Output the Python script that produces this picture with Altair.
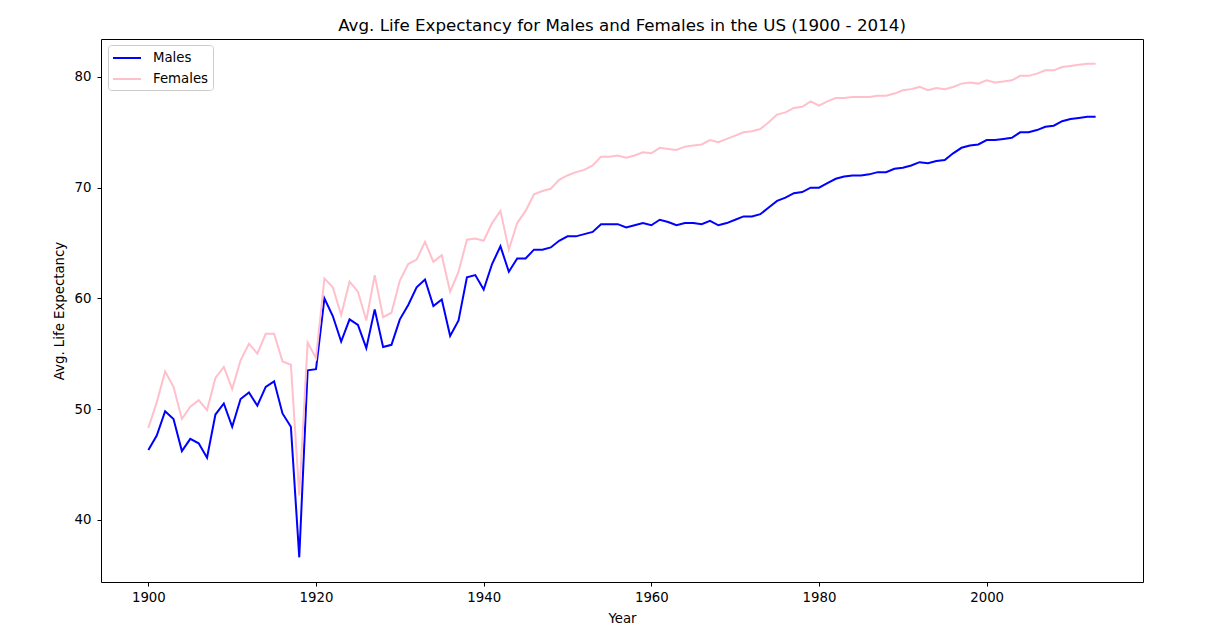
import altair as alt
import pandas as pd

years = list(range(1900, 2014))

males = [
    46.3, 47.6, 49.8, 49.1, 46.2, 47.3, 46.9, 45.6, 49.5, 50.5,
    48.4, 50.9, 51.5, 50.3, 52.0, 52.5, 49.6, 48.4, 36.6, 53.5,
    53.6, 60.0, 58.4, 56.1, 58.1, 57.6, 55.5, 59.0, 55.6, 55.8,
    58.1, 59.4, 61.0, 61.7, 59.3, 59.9, 56.6, 58.0, 61.9, 62.1,
    60.8, 63.1, 64.7, 62.4, 63.6, 63.6, 64.4, 64.4, 64.6, 65.2,
    65.6, 65.6, 65.8, 66.0, 66.7, 66.7, 66.7, 66.4, 66.6, 66.8,
    66.6, 67.1, 66.9, 66.6, 66.8, 66.8, 66.7, 67.0, 66.6, 66.8,
    67.1, 67.4, 67.4, 67.6, 68.2, 68.8, 69.1, 69.5, 69.6, 70.0,
    70.0, 70.4, 70.8, 71.0, 71.1, 71.1, 71.2, 71.4, 71.4, 71.7,
    71.8, 72.0, 72.3, 72.2, 72.4, 72.5, 73.1, 73.6, 73.8, 73.9,
    74.3, 74.3, 74.4, 74.5, 75.0, 75.0, 75.2, 75.5, 75.6, 76.0,
    76.2, 76.3, 76.4, 76.4,
]

females = [
    48.3, 50.6, 53.4, 52.0, 49.1, 50.2, 50.8, 49.9, 52.8, 53.8,
    51.8, 54.4, 55.9, 55.0, 56.8, 56.8, 54.3, 54.0, 42.2, 56.0,
    54.6, 61.8, 61.0, 58.5, 61.5, 60.6, 58.0, 62.1, 58.3, 58.7,
    61.6, 63.1, 63.5, 65.1, 63.3, 63.9, 60.6, 62.4, 65.3, 65.4,
    65.2, 66.8, 67.9, 64.4, 66.8, 67.9, 69.4, 69.7, 69.9, 70.7,
    71.1, 71.4, 71.6, 72.0, 72.8, 72.8, 72.9, 72.7, 72.9, 73.2,
    73.1, 73.6, 73.5, 73.4, 73.7, 73.8, 73.9, 74.3, 74.1, 74.4,
    74.7, 75.0, 75.1, 75.3, 75.9, 76.6, 76.8, 77.2, 77.3, 77.8,
    77.4, 77.8, 78.1, 78.1, 78.2, 78.2, 78.2, 78.3, 78.3, 78.5,
    78.8, 78.9, 79.1, 78.8, 79.0, 78.9, 79.1, 79.4, 79.5, 79.4,
    79.7, 79.5, 79.6, 79.7, 80.1, 80.1, 80.3, 80.6, 80.6, 80.9,
    81.0, 81.1, 81.2, 81.2,
]

series_names = ["Males", "Females"]
series_colors = ["blue", "pink"]
x_ticks = [1900, 1920, 1940, 1960, 1980, 2000]
y_ticks = [40, 50, 60, 70, 80]

df = pd.concat([
    pd.DataFrame({"Year": years, "Value": males, "Sex": "Males", "order": 0}),
    pd.DataFrame({"Year": years, "Value": females, "Sex": "Females", "order": 1}),
])

FONT = "DejaVu Sans"

chart = alt.Chart(df).mark_line(strokeWidth=2).encode(
    x=alt.X("Year:Q",
            scale=alt.Scale(domain=[1894.35, 2018.65], nice=False, zero=False),
            axis=alt.Axis(values=x_ticks, format="d", title="Year", grid=False,
                          domain=False, tickSize=4, tickColor="black",
                          labelPadding=4, titlePadding=8)),
    y=alt.Y("Value:Q",
            scale=alt.Scale(domain=[34.37, 83.43], nice=False, zero=False),
            axis=alt.Axis(values=y_ticks, title="Avg. Life Expectancy", grid=False,
                          domain=False, tickSize=4, tickColor="black",
                          labelPadding=6, titlePadding=8)),
    color=alt.Color("Sex:N",
                    scale=alt.Scale(domain=series_names, range=series_colors),
                    legend=alt.Legend(title=None, orient="none", legendX=7, legendY=6,
                                      symbolType="M-1.75,0H1.75", symbolSize=256,
                                      symbolStrokeWidth=2, symbolOffset=6,
                                      labelOffset=17, rowPadding=5, padding=4,
                                      strokeColor="#cccccc", cornerRadius=3,
                                      fillColor="white", labelFontSize=13.3,
                                      labelFont=FONT, labelColor="black")),
    detail="Sex:N",
    order="order:Q",
).properties(
    width=1042,
    height=543,
    title=alt.TitleParams("Avg. Life Expectancy for Males and Females in the US (1900 - 2014)",
                          fontSize=16.7, font=FONT, fontWeight="normal", color="black",
                          offset=4),
    autosize=alt.AutoSizeParams(type="none"),
    padding={"left": 93, "top": 31, "right": 60, "bottom": 50},
    background="white",
).configure_view(
    stroke="black", strokeWidth=1,
).configure_axis(
    labelFont=FONT, titleFont=FONT, labelFontSize=13.3, titleFontSize=13.3,
    labelColor="black", titleColor="black", titleFontWeight="normal",
)

chart.save("out.html", embed_options={"renderer": "svg", "actions": False})
